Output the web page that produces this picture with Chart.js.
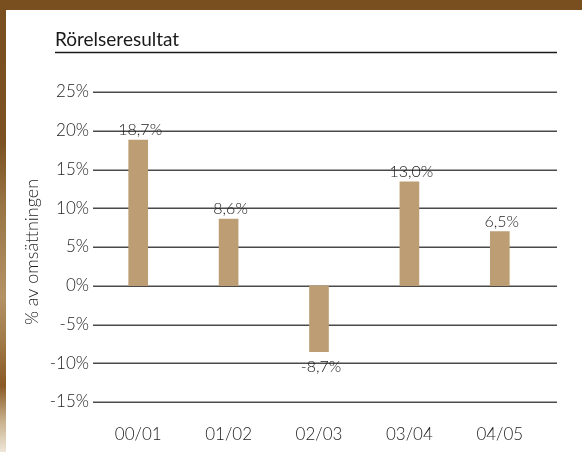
<!DOCTYPE html>
<html>
<head>
<meta charset="utf-8">
<script src="https://cdn.jsdelivr.net/npm/chart.js@4.4.1/dist/chart.umd.min.js"></script>
<style>
  html, body { margin: 0; padding: 0; background: #ffffff; }
  #wrap { position: relative; width: 582px; height: 452px; overflow: hidden; background: #fff; }
  #topbar { position: absolute; left: 0; top: 0; width: 582px; height: 10px; background: #7a4f1f; }
  #leftbar { position: absolute; left: 0; top: 10px; width: 6px; height: 442px;
    background: linear-gradient(to bottom, #7a4f1f 0%, #7c5222 30%, #9a7646 45%, #b39266 65%, #a07a48 75%, #8a5a26 85%, #c8b08c 93%, #efe6d8 100%); }
  canvas { position: absolute; left: 0; top: 0; }
</style>
</head>
<body>
<div id="wrap">
  <div id="topbar"></div>
  <div id="leftbar"></div>
  <canvas id="c" width="582" height="452"></canvas>
</div>
<script>
const chartTitle = 'Rörelseresultat';
const yAxisTitle = '% av omsättningen';
const categories = ['00/01', '01/02', '02/03', '03/04', '04/05'];
const values = [18.8, 8.6, -8.5, 13.4, 7.0];
const valueLabels = ['18,7%', '8,6%', '-8,7%', '13,0%', '6,5%'];
const yTicks = [25, 20, 15, 10, 5, 0, -5, -10, -15];

const FONT = 'Lato, "DejaVu Sans", sans-serif';

const decor = {
  id: 'decor',
  beforeDatasetsDraw(chart) {
    const ctx = chart.ctx;
    const y = chart.scales.y;
    const left = chart.chartArea.left;
    ctx.save();
    ctx.strokeStyle = '#4a4a4a';
    ctx.lineWidth = 1.5;
    yTicks.forEach(v => {
      const py = Math.round(y.getPixelForValue(v)) + 0.25;
      ctx.beginPath();
      ctx.moveTo(left, py);
      ctx.lineTo(557, py);
      ctx.stroke();
    });
    ctx.restore();
  },
  afterDraw(chart) {
    const ctx = chart.ctx;
    const meta = chart.getDatasetMeta(0);
    ctx.save();
    // title
    ctx.fillStyle = '#1a1a1a';
    ctx.font = '19px ' + FONT;
    ctx.textAlign = 'left';
    ctx.textBaseline = 'alphabetic';
    ctx.fillText(chartTitle, 55, 46);
    ctx.strokeStyle = '#1a1a1a';
    ctx.lineWidth = 1.6;
    ctx.beginPath();
    ctx.moveTo(55, 52.5);
    ctx.lineTo(557, 52.5);
    ctx.stroke();
    // y axis title
    ctx.save();
    ctx.translate(38, 252);
    ctx.rotate(-Math.PI / 2);
    ctx.textAlign = 'center';
    ctx.textBaseline = 'alphabetic';
    ctx.fillStyle = '#222';
    ctx.font = '300 18px ' + FONT;
    ctx.fillText(yAxisTitle, 0, 0);
    ctx.restore();
    // value labels
    ctx.fillStyle = '#222';
    ctx.font = '300 16px ' + FONT;
    ctx.textAlign = 'center';
    meta.data.forEach((bar, i) => {
      if (values[i] >= 0) {
        ctx.textBaseline = 'alphabetic';
        ctx.fillText(valueLabels[i], bar.x + 2, bar.y - 5);
      } else {
        ctx.textBaseline = 'top';
        ctx.fillText(valueLabels[i], bar.x + 2, bar.y + 7);
      }
    });
    ctx.restore();
  }
};

new Chart(document.getElementById('c'), {
  type: 'bar',
  data: {
    labels: categories,
    datasets: [{
      data: values,
      backgroundColor: '#bd9e74',
      borderWidth: 0,
      barThickness: 19
    }]
  },
  options: {
    responsive: false,
    animation: false,
    devicePixelRatio: 1,
    layout: { padding: { left: 0, right: 37, top: 92, bottom: 8 } },
    plugins: { legend: { display: false }, tooltip: { enabled: false }, title: { display: false } },
    scales: {
      x: {
        afterFit(scale) { scale.height = 42; },
        grid: { display: false, drawTicks: false },
        border: { display: false },
        ticks: { color: '#222', font: { family: FONT, size: 17, weight: '300' }, padding: 22, maxRotation: 0 }
      },
      y: {
        min: -15, max: 25,
        afterFit(scale) { scale.width = 93; },
        afterBuildTicks(scale) { scale.ticks = yTicks.map(v => ({ value: v })); },
        grid: { display: false, drawTicks: false },
        border: { display: false },
        ticks: {
          color: '#222', font: { family: FONT, size: 17, weight: '300' }, padding: 4,
          callback: v => v + '%'
        }
      }
    }
  },
  plugins: [decor]
});
</script>
</body>
</html>
